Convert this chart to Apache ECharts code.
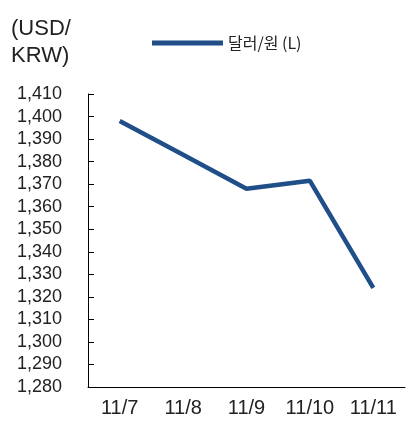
<!DOCTYPE html>
<html>
<head>
<meta charset="utf-8">
<script src="https://cdn.jsdelivr.net/npm/echarts@6/dist/echarts.min.js"></script>
<style>
  html, body { margin: 0; padding: 0; background: #fff; }
  #chart { width: 408px; height: 423px; }
</style>
</head>
<body>
<div id="chart"></div>
<script>
// 날짜 / 환율 데이터
const dates = ['11/7', '11/8', '11/9', '11/10', '11/11']
const usdKrw = [1398, 1383, 1368, 1371.5, 1324]
const seriesName = '달러/원 (L)'

const lineColor = '#1f4e89'
const textColor = '#222'

const chart = echarts.init(document.getElementById('chart'))
chart.setOption({
  animation: false,
  title: {
    text: '(USD/\nKRW)',
    left: 6,
    top: 10,
    textStyle: {
      fontFamily: 'Liberation Sans',
      fontSize: 22,
      lineHeight: 27,
      fontWeight: 'normal',
      color: textColor
    }
  },
  legend: {
    left: 147,
    top: 30,
    icon: 'rect',
    itemWidth: 71,
    itemHeight: 5,
    itemGap: 8,
    textStyle: {
      fontFamily: 'Noto Sans CJK KR',
      fontSize: 16,
      color: textColor
    },
    data: [seriesName]
  },
  grid: {
    left: 88,
    right: 3,
    top: 94,
    bottom: 36,
    containLabel: false
  },
  xAxis: {
    type: 'category',
    data: dates,
    boundaryGap: true,
    axisLine: { lineStyle: { color: '#000', width: 1 } },
    axisTick: { inside: true, length: 5, lineStyle: { color: '#000' } },
    axisLabel: {
      margin: 11,
      fontFamily: 'Liberation Sans',
      fontSize: 20,
      color: textColor
    },
    splitLine: { show: false }
  },
  yAxis: {
    type: 'value',
    min: 1280,
    max: 1410,
    interval: 10,
    axisLine: { show: true, lineStyle: { color: '#000', width: 1 } },
    axisTick: { show: true, inside: true, length: 6, lineStyle: { color: '#000' } },
    axisLabel: {
      margin: 26,
      fontFamily: 'Liberation Sans',
      fontSize: 18,
      color: textColor,
      formatter: v => v.toLocaleString('en-US')
    },
    splitLine: { show: false }
  },
  series: [{
    name: seriesName,
    type: 'line',
    data: usdKrw,
    symbol: 'none',
    lineStyle: { color: lineColor, width: 4.5 },
    itemStyle: { color: lineColor }
  }]
})
</script>
</body>
</html>
